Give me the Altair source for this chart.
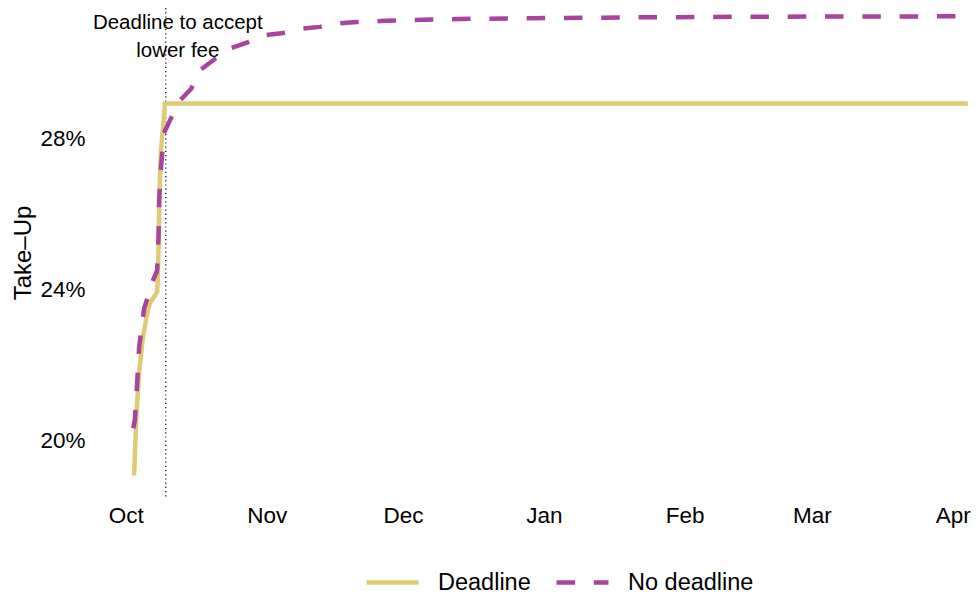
import altair as alt
import pandas as pd

# ---- data (day offsets since 1 Oct 2018, take-up in %) ----
deadline_day = [1.83, 2.35, 2.93, 3.67, 4.56, 5.28, 6.89, 7.04, 7.2, 7.33, 7.5, 7.75, 8.2, 8.6,
                30, 60, 90, 120, 150, 185.3]
deadline_pct = [19.07, 20.72, 21.77, 22.65, 23.27, 23.63, 23.93, 24.24, 25.12, 26.01, 26.9, 27.7, 28.3, 28.92,
                28.92, 28.92, 28.92, 28.92, 28.92, 28.92]

nodeadline_day = [1.65, 1.98, 2.49, 2.93, 4.03, 6.0, 6.9, 7.2, 7.33, 7.7, 8.36, 10.05, 11.9, 14.4,
                  16.3, 19.6, 22.9, 26.8, 30.6, 34.6, 38.7, 42.7, 46.7, 50.8, 57, 73.5, 89.8, 110,
                  139.5, 185.3]
nodeadline_pct = [20.32, 20.53, 21.5, 22.47, 23.49, 24.24, 24.5, 25.39, 26.36, 27.15, 28.13, 28.56, 29.0, 29.31,
                  29.8, 30.1, 30.38, 30.54, 30.73, 30.79, 30.9, 30.95, 31.04, 31.08, 31.11, 31.16, 31.18, 31.2,
                  31.22, 31.23]

series_names = ["Deadline", "No deadline"]
series_colors = ["#DFCB76", "#A8449B"]
series_dash = [[1, 0], [18.5, 18.8]]

deadline_offset = 8.8
annotation_text = ["Deadline to accept", "lower fee"]
annotation_pct = 31.04

y_ticks = [20, 24, 28]
month_ticks = ["2018-10-01", "2018-11-01", "2018-12-01", "2019-01-01", "2019-02-01", "2019-03-01", "2019-04-01"]

base = pd.Timestamp("2018-10-01", tz="UTC")


def to_time(d):
    return (base + pd.Timedelta(days=d)).strftime("%Y-%m-%dT%H:%M:%SZ")


rows = []
for d, v in zip(deadline_day, deadline_pct):
    rows.append({"date": to_time(d), "pct": v, "series": series_names[0]})
for d, v in zip(nodeadline_day, nodeadline_pct):
    rows.append({"date": to_time(d), "pct": v, "series": series_names[1]})
df = pd.DataFrame(rows)

rule_df = pd.DataFrame({"date": [to_time(deadline_offset)]})
text_df = pd.DataFrame({"date": [to_time(deadline_offset)], "pct": [annotation_pct],
                        "label": [annotation_text]})

FONT = "Liberation Sans"

x_enc = alt.X(
    "date:T",
    scale=alt.Scale(type="utc", domain=[to_time(-7), to_time(186)], nice=False),
    axis=alt.Axis(
        title=None,
        values=[pd.Timestamp(m, tz="UTC").strftime("%Y-%m-%dT%H:%M:%SZ") for m in month_ticks],
        format="%b",
        grid=False, domain=False, ticks=False, tickSize=0,
        labelFontSize=22.5, labelColor="#000000", labelPadding=7, labelFont=FONT,
        labelFlush=False,
    ),
)

y_scale = alt.Scale(domain=[18.5, 31.45], nice=False, zero=False)

legend_cfg = dict(
    title=None, orient="none", legendX=270, legendY=546, direction="horizontal",
    symbolType="stroke", symbolSize=2704, symbolStrokeWidth=4.5,
    labelFontSize=23.5, labelFont=FONT, labelColor="#000000", labelOffset=17,
    columnPadding=16,
)

lines = alt.Chart(df).mark_line(strokeWidth=4.5, clip=True).encode(
    x=x_enc,
    y=alt.Y(
        "pct:Q",
        scale=y_scale,
        axis=alt.Axis(
            title="Take–Up", values=y_ticks, labelExpr="datum.value + '%'",
            grid=False, domain=False, ticks=False, tickSize=0,
            labelFontSize=22.5, labelColor="#000000", labelPadding=9, labelFont=FONT,
            titleFontSize=24, titleFontWeight="normal", titleColor="#000000", titleFont=FONT,
            titlePadding=4,
        ),
    ),
    color=alt.Color(
        "series:N",
        scale=alt.Scale(domain=series_names, range=series_colors),
        legend=alt.Legend(**legend_cfg),
    ),
    strokeDash=alt.StrokeDash(
        "series:N",
        scale=alt.Scale(domain=series_names, range=series_dash),
        legend=alt.Legend(**legend_cfg),
    ),
)

rule = alt.Chart(rule_df).mark_rule(color="#000000", strokeDash=[1.2, 3], strokeWidth=1.2).encode(
    x=alt.X("date:T")
)

text = alt.Chart(text_df).mark_text(
    font=FONT, fontSize=20.5, color="#000000", align="center", baseline="middle",
    dx=12, lineHeight=28,
).encode(
    x=alt.X("date:T"),
    y=alt.Y("pct:Q", scale=y_scale),
    text="label",
)

chart = alt.layer(rule, lines, text).properties(
    width=877, height=489,
    autosize=alt.AutoSizeParams(type="none"),
    padding={"left": 86, "top": 0, "right": 0, "bottom": 98},
).configure(font=FONT).configure_view(stroke=None)

chart.save("out.html", embed_options={"renderer": "svg", "actions": False})
